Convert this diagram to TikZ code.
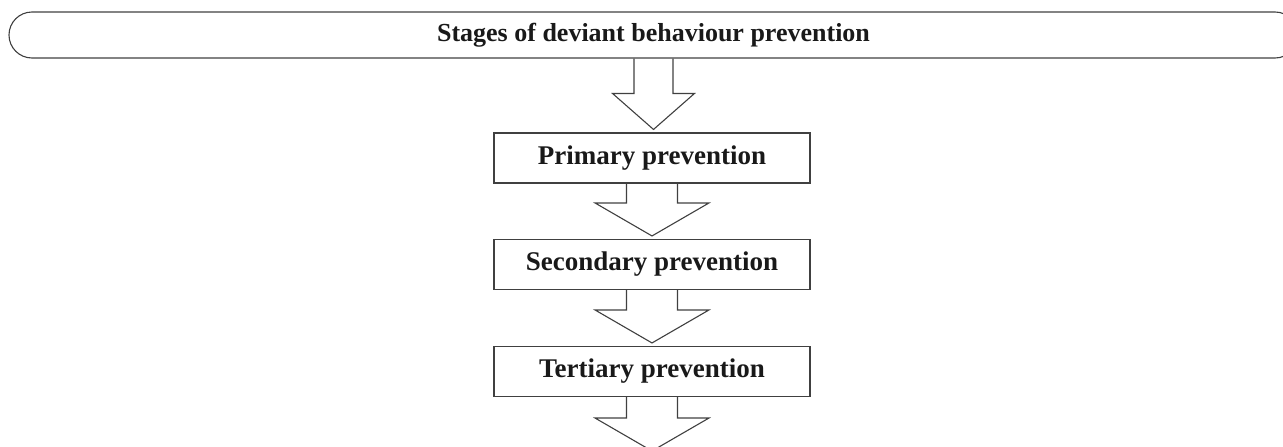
\documentclass[tikz,border=0pt]{standalone}
\usepackage{fontspec}
\setmainfont{Liberation Serif}
\usetikzlibrary{calc,positioning}
\tikzset{
  stagebox/.style={draw=black!75,line width=0.55pt,minimum width=158pt,minimum height=25pt,inner sep=0pt,font=\fontsize{13.5}{16}\selectfont\bfseries,text=black!90},
  titlebar/.style={stagebox,minimum width=644.5pt,minimum height=23pt,rounded corners=11.5pt,font=\fontsize{13}{16}\selectfont\bfseries},
  hollow/.style={draw=black!75,line width=0.55pt,line join=miter}
}
\newcommand{\blockarrow}[5]{\draw[hollow] let \p1=(#1), \p2=(#2) in (\x1-#3,\y1) -- (\x1-#3,\y2+#5) -- (\x1-#4,\y2+#5) -- (\x1,\y2) -- (\x1+#4,\y2+#5) -- (\x1+#3,\y2+#5) -- (\x1+#3,\y1);}
\begin{document}
\begin{tikzpicture}[x=0.5pt,y=0.5pt]
\useasboundingbox (0,0) rectangle (1283,446);
\node[titlebar] (stages) at (653.5,411) {Stages of deviant behaviour prevention};
\node[stagebox] (primary) at (652,288) {Primary prevention};
\node[stagebox] (secondary) at (652,181.5) {Secondary prevention};
\node[stagebox] (tertiary) at (652,74.5) {Tertiary prevention};
\coordinate (next) at (652,-5);
\blockarrow{stages.south}{[yshift=1.5pt]primary.north}{9.75pt}{20.5pt}{18pt}
\blockarrow{primary.south}{[yshift=1.5pt]secondary.north}{12.75pt}{28.5pt}{16.5pt}
\blockarrow{secondary.south}{[yshift=1.5pt]tertiary.north}{12.75pt}{28.5pt}{16.5pt}
\blockarrow{tertiary.south}{next}{12.75pt}{28.5pt}{16.5pt}
\end{tikzpicture}
\end{document}
